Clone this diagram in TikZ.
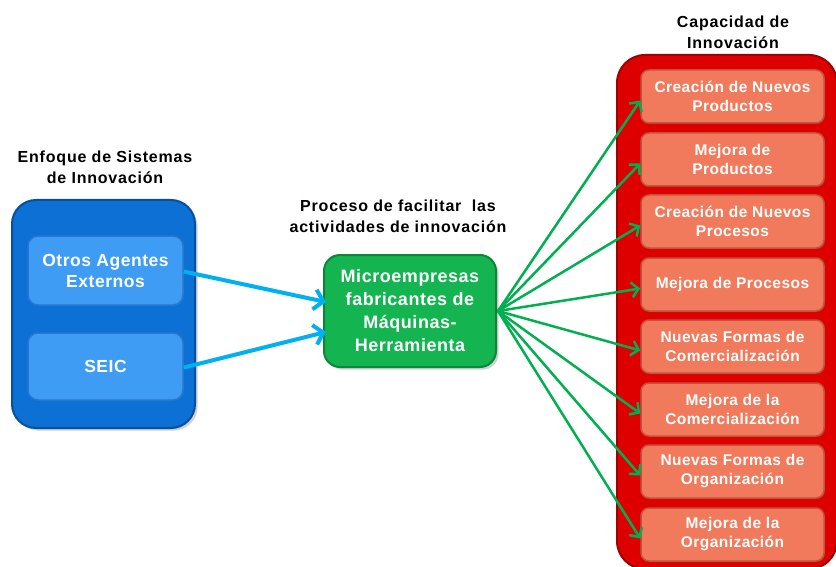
\documentclass[tikz,border=0pt]{standalone}
\usepackage{fontspec}
\setmainfont{Liberation Sans}
\newfontfamily\lsp[LetterSpace=3]{Liberation Sans}
\newfontfamily\lspt[LetterSpace=5]{Liberation Sans}
\usetikzlibrary{arrows.meta,shadows}
\definecolor{bOuter}{RGB}{12,112,212}
\definecolor{bOuterDk}{RGB}{6,80,160}
\definecolor{bInner}{RGB}{62,156,245}
\definecolor{bInnerDk}{RGB}{36,120,205}
\definecolor{gBox}{RGB}{20,180,80}
\definecolor{gBoxDk}{RGB}{10,135,55}
\definecolor{rOuter}{RGB}{222,0,0}
\definecolor{rOuterDk}{RGB}{160,0,0}
\definecolor{salmon}{RGB}{242,122,92}
\definecolor{salmonDk}{RGB}{190,85,60}
\definecolor{arrBlue}{RGB}{0,176,240}
\definecolor{arrGreen}{RGB}{0,176,80}
\tikzset{
  titletxt/.style={font=\lspt\fontsize{16}{21}\selectfont\bfseries, align=center, text=black},
  outerblue/.style={draw=bOuterDk, line width=2pt, fill=bOuter, rounded corners=24pt, minimum width=183pt, minimum height=228pt, drop shadow={opacity=0.35}},
  innerblue/.style={draw=bInnerDk, line width=1.5pt, fill=bInner, rounded corners=10pt, minimum width=155pt, text=white, align=center, font=\lsp\fontsize{17.5}{21}\selectfont\bfseries, drop shadow={opacity=0.25,shadow xshift=1pt,shadow yshift=-1pt}},
  greenbox/.style={draw=gBoxDk, line width=2pt, fill=gBox, rounded corners=16pt, minimum width=172pt, minimum height=112pt, text=white, align=center, font=\lsp\fontsize{18}{23}\selectfont\bfseries, drop shadow={opacity=0.35}},
  redouter/.style={draw=rOuterDk, line width=2pt, fill=rOuter, rounded corners=28pt, minimum width=220pt, minimum height=514pt},
  salmonbox/.style={draw=salmonDk, line width=1.5pt, fill=salmon, rounded corners=8pt, minimum width=183pt, minimum height=53pt, text=white, align=center, font=\lsp\fontsize{15.5}{19}\selectfont\bfseries, drop shadow={opacity=0.25,shadow xshift=1pt,shadow yshift=-1pt}},
  bluearrow/.style={draw=arrBlue, line width=4pt, -{Straight Barb[length=9pt,width=20pt]}},
  greenarrow/.style={draw=arrGreen, line width=2.5pt, -{Straight Barb[length=7pt,width=15pt]}}
}
\begin{document}
\begin{tikzpicture}[x=1pt,y=-1pt]
\useasboundingbox (0,0) rectangle (836,567);
\clip (0,0) rectangle (836,567);
\fill[white] (0,0) rectangle (836,567);

% titles
\node[titletxt] (t1) at (105,167) {Enfoque de Sistemas\\de Innovación};
\node[titletxt] (t2) at (398,216) {Proceso de facilitar\ \ las\\actividades de innovación};
\node[titletxt] (t3) at (733,32) {Capacidad de\\Innovación};

% left group
\node[outerblue] (sys) at (103.5,314) {};
\node[innerblue, minimum height=69pt] (otros) at (105.5,270.5) {Otros Agentes\\Externos};
\node[innerblue, minimum height=67pt] (seic) at (105.5,366.5) {SEIC};

% center
\node[greenbox] (mic) at (410,311) {Microempresas\\fabricantes de\\Máquinas-\\Herramienta};

% right group
\node[redouter] (cap) at (727,312) {};
\node[salmonbox] (c1) at (732.5,96.5) {Creación de Nuevos\\Productos};
\node[salmonbox] (c2) at (732.5,159.5) {Mejora de\\Productos};
\node[salmonbox] (c3) at (732.5,221.5) {Creación de Nuevos\\Procesos};
\node[salmonbox] (c4) at (732.5,284.5) {Mejora de Procesos};
\node[salmonbox] (c5) at (732.5,346.5) {Nuevas Formas de\\Comercialización};
\node[salmonbox] (c6) at (732.5,409.5) {Mejora de la\\Comercialización};
\node[salmonbox] (c7) at (732.5,471.5) {Nuevas Formas de\\Organización};
\node[salmonbox] (c8) at (732.5,534.5) {Mejora de la\\Organización};

% blue arrows
\draw[bluearrow] ([yshift=-1pt]otros.east) -- ([yshift=9pt,xshift=3pt]mic.west);
\draw[bluearrow] ([yshift=-1pt]seic.east) -- ([yshift=-21pt,xshift=3pt]mic.west);

% green arrows
\foreach \i in {1,...,8}{
  \draw[greenarrow] ([xshift=1pt]mic.east) -- ([yshift=-4pt]c\i.west);
}
\end{tikzpicture}
\end{document}
